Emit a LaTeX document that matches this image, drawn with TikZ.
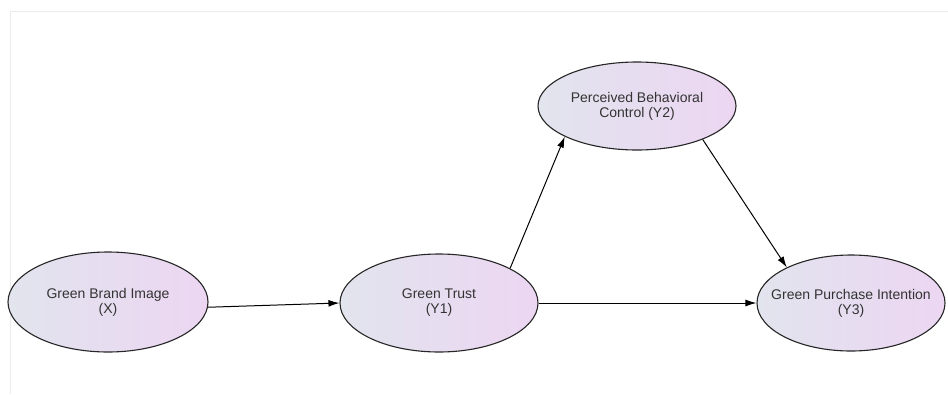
\documentclass[tikz,border=0pt]{standalone}
\usepackage{fontspec}
\setmainfont{Liberation Sans}
\usetikzlibrary{arrows.meta,shapes.geometric}
\definecolor{latleft}{RGB}{226,228,238}
\definecolor{latright}{RGB}{236,214,242}
\definecolor{framegray}{RGB}{236,236,236}
\tikzset{latent/.style={ellipse,draw=black!85,line width=1.1pt,left color=latleft,right color=latright,
    align=center,inner sep=0pt,text=black!80,font=\fontsize{14}{15}\selectfont},
  arr/.style={-{Latex[length=11pt,width=7pt]},line width=1pt}}

\begin{document}
\begin{tikzpicture}[x=1pt,y=-1pt]
\useasboundingbox (0,0) rectangle (948,394);
\draw[framegray] (10,394) -- (10,11) -- (948,11);
% latent variables
\node[latent,minimum width=200pt,minimum height=100pt] (gbi) at (108,302) {Green Brand Image\\(X)};
\node[latent,minimum width=198pt,minimum height=98pt] (gt) at (439,303) {Green Trust\\(Y1)};
\node[latent,minimum width=198pt,minimum height=88pt] (pbc) at (637,106) {Perceived Behavioral\\Control (Y2)};
\node[latent,minimum width=188pt,minimum height=96pt,inner xsep=-14pt] (gpi) at (851,303) {Green Purchase Intention\\(Y3)};
% paths
\draw[arr] (gbi.-3) -- (gt.180);
\draw[arr] (gt.26) -- (pbc.203);
\draw[arr] (pbc.333) -- (gpi.151);
\draw[arr] (gt) -- (gpi);
\end{tikzpicture}
\end{document}
